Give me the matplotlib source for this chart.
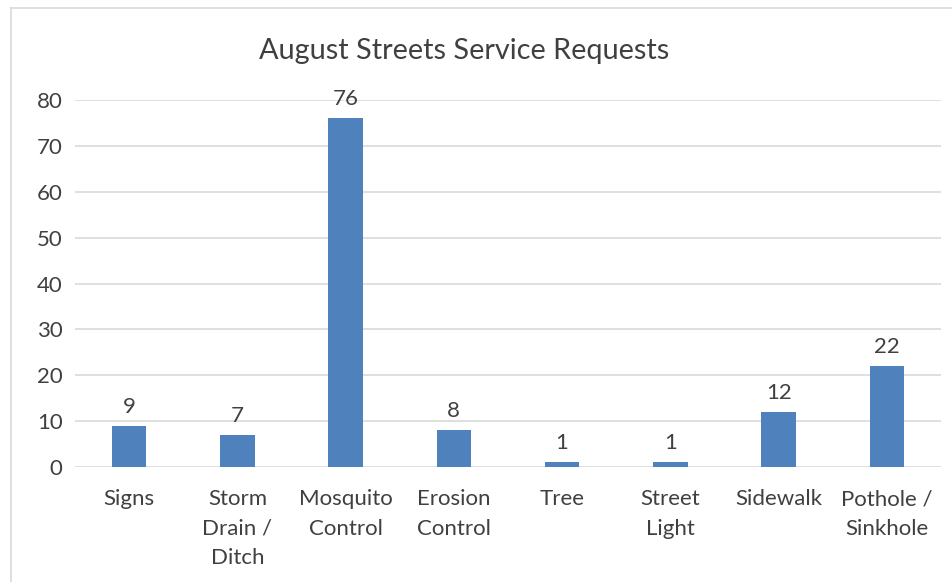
import matplotlib.pyplot as plt
from matplotlib.lines import Line2D

categories = ['Signs', 'Storm\nDrain /\nDitch', 'Mosquito\nControl', 'Erosion\nControl',
              'Tree', 'Street\nLight', 'Sidewalk', 'Pothole /\nSinkhole']
requests = [9, 7, 76, 8, 1, 1, 12, 22]
yticks = [0, 10, 20, 30, 40, 50, 60, 70, 80]

plt.rcParams['font.family'] = ['Lato', 'DejaVu Sans']

W, H = 953, 582
fig = plt.figure(figsize=(W / 100, H / 100), dpi=100)
ax = fig.add_axes([75 / W, 115 / H, 866 / W, 367 / H])

x = range(len(categories))
bars = ax.bar(x, requests, width=0.32, color='#4F81BD', zorder=3)
for b, v in zip(bars, requests):
    ax.text(b.get_x() + b.get_width() / 2, v + 2.0, str(v), ha='center', va='bottom',
            fontsize=16, color='#404040')

ax.set_xlim(-0.5, len(categories) - 0.5)
ax.set_ylim(0, 80)
ax.set_yticks(yticks)
ax.set_xticks(list(x))
ax.set_xticklabels(categories, fontsize=16, color='#404040', linespacing=1.6, va='top')
ax.tick_params(axis='y', labelsize=16, labelcolor='#404040', length=0, pad=9)
ax.tick_params(axis='x', length=0, pad=16)
ax.grid(axis='y', color='#D9D9D9', linewidth=1.2, zorder=0)
for s in ax.spines.values():
    s.set_visible(False)

fig.text(464 / W, 1 - 51 / H, 'August Streets Service Requests', ha='center', va='center',
         fontsize=20.8, color='#404040')

# outer chart border (only top and left visible)
fig.add_artist(Line2D([10.5 / W, 10.5 / W], [0, 1 - 8 / H], color='#D9D9D9', lw=1.2))
fig.add_artist(Line2D([10.5 / W, 1], [1 - 8 / H, 1 - 8 / H], color='#D9D9D9', lw=1.2))

fig.savefig('out.png', dpi=100)
